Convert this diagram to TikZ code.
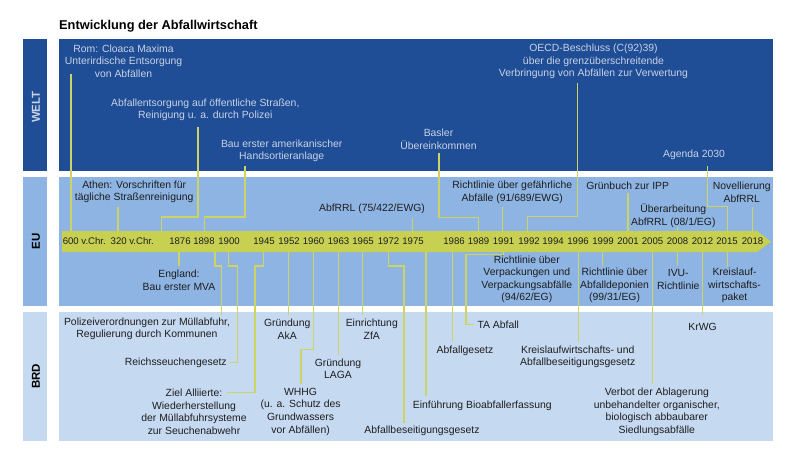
\documentclass[tikz,border=0pt]{standalone}
\usepackage{fontspec}
\setmainfont{Liberation Sans}
\definecolor{welt}{RGB}{31,78,151}
\definecolor{eu}{RGB}{141,180,226}
\definecolor{brd}{RGB}{197,217,241}
\definecolor{barc}{RGB}{200,208,82}
\definecolor{linec}{RGB}{206,212,98}
\definecolor{wtxt}{RGB}{200,210,228}
\definecolor{dtxt}{RGB}{30,30,30}
\newcommand\mytxt{\fontsize{10.4}{12.6}\selectfont}
\newcommand\myyr{\fontsize{9.6}{11}\selectfont}
\tikzset{
  wt/.style={text=wtxt, font=\mytxt, align=center, inner sep=0pt},
  et/.style={text=dtxt, font=\mytxt, align=center, inner sep=0pt},
  yr/.style={text=dtxt, font=\myyr, inner sep=0pt},
  con/.style={draw=linec, line width=1.1pt},
  lbl/.style={font=\fontsize{11.5}{12}\selectfont\bfseries, rotate=90, inner sep=0pt},
}
\begin{document}
\begin{tikzpicture}[x=1pt,y=-1pt]
\useasboundingbox (0,0) rectangle (800,450);
\fill[white] (0,0) rectangle (800,450);
% title
\node[anchor=base west, inner sep=0pt, font=\fontsize{12.8}{14}\selectfont\bfseries, text=black] (title) at (59,29.5) {Entwicklung der Abfallwirtschaft};
% panels
\fill[welt] (59,39) rectangle (773,171);
\fill[eu] (59,177) rectangle (773,306);
\fill[brd] (59,312) rectangle (773,441);
\fill[welt] (23,39) rectangle (47,171);
\fill[eu] (23,177) rectangle (47,306);
\fill[brd] (23,312) rectangle (47,441);
\node[lbl, text=wtxt] (lwelt) at (36,107) {WELT};
\node[lbl, text=black] (leu) at (36,241.5) {EU};
\node[lbl, text=black] (lbrd) at (36,376.5) {BRD};
% timeline bar
\fill[barc] (62,231) -- (757,231) -- (771,241.5) -- (757,252) -- (62,252) -- cycle;
% connectors
\draw[con] (71,74) -- (71,231);
\draw[con] (198,127) -- (198,217) -- (161.7,217) -- (161.7,231);
\draw[con] (245,166) -- (245,217) -- (204.3,217) -- (204.3,231);
\draw[con] (439,153.3) -- (439,217.7) -- (478.3,217.7) -- (478.3,231);
\draw[con] (577.5,83.3) -- (577.5,216.7) -- (527.7,216.7) -- (527.7,231);
\draw[con] (707.7,165.7) -- (707.7,206.7) -- (727.7,206.7) -- (727.7,231);
\draw[con] (118,207.3) -- (118,231);
\draw[con] (179,252) -- (179,266);
\draw[con] (412.7,217.7) -- (412.7,231);
\draw[con] (502.7,207.3) -- (502.7,231);
\draw[con] (628,193.3) -- (628,231);
\draw[con] (677.3,227.3) -- (677.3,231);
\draw[con] (752.7,207.3) -- (752.7,231);
\draw[con] (602.3,252) -- (602.3,266);
\draw[con] (677.3,252) -- (677.3,266);
\draw[con] (727.7,252) -- (727.7,266.7);
\draw[con] (215,252) -- (215,266) -- (221.7,266) -- (221.7,315);
\draw[con] (228.3,252) -- (228.3,266) -- (237.3,266) -- (237.3,362.7) -- (230,362.7);
\draw[con] (263.3,252) -- (263.3,266) -- (255,266) -- (255,392.7) -- (226.7,392.7);
\draw[con] (288.3,252) -- (288.3,315);
\draw[con] (313.3,252) -- (313.3,349.3) -- (301,349.3) -- (301,384.3);
\draw[con] (338.3,252) -- (338.3,355);
\draw[con] (362.7,252) -- (362.7,315);
\draw[con] (388.3,252) -- (388.3,266) -- (404,266) -- (404,422.7);
\draw[con] (426,252) -- (426,396);
\draw[con] (452.7,252) -- (452.7,342.3);
\draw[con] (503.3,252) -- (503.3,254.3) -- (466,254.3) -- (466,324.3) -- (474,324.3);
\draw[con] (578.3,252) -- (578.3,342.3);
\draw[con] (652.3,252) -- (652.3,384.3);
\draw[con] (702.7,252) -- (702.7,315);
% years
\node[yr] (y600) at (84.3,240.8) {600 v.Chr.};
\node[yr] (y320) at (132.2,240.8) {320 v.Chr.};
\foreach \yx/\yt in {180/1876,204/1898,229/1900,264/1945,289/1952,313.5/1960,338.5/1963,363/1965,388.5/1972,413/1975,454/1986,478.5/1989,503.5/1991,529/1992,553/1994,578/1996,603/1999,628/2001,652.5/2005,677.5/2008,702.5/2012,727/2015,752.5/2018}
  \node[yr] (y\yt) at (\yx,240.8) {\yt};
% WELT texts
\node[wt] (rom) at (123.5,61) {Rom: Cloaca Maxima\\Unterirdische Entsorgung\\von Abfällen};
\node[wt] (strassen) at (205.3,110) {Abfallentsorgung auf öffentliche Straßen,\\Reinigung u. a. durch Polizei};
\node[wt] (bau) at (281.7,151) {Bau erster amerikanischer\\Handsortieranlage};
\node[wt] (basler) at (438.5,139) {Basler\\Übereinkommen};
\node[wt] (oecd) at (593.5,61.5) {OECD-Beschluss (C(92)39)\\über die grenzüberschreitende\\Verbringung von Abfällen zur Verwertung};
\node[wt] (agenda) at (694,155) {Agenda 2030};
% EU texts
\node[et] (athen) at (134.2,192) {Athen: Vorschriften für\\tägliche Straßenreinigung};
\node[et] (england) at (179,280) {England:\\Bau erster MVA};
\node[et] (abfrrl75) at (372,209) {AbfRRL (75/422/EWG)};
\node[et] (gefaehr) at (512.3,192.3) {Richtlinie über gefährliche\\Abfälle (91/689/EWG)};
\node[et] (gruenbuch) at (627.7,186) {Grünbuch zur IPP};
\node[et] (ueberarb) at (673.3,215.5) {Überarbeitung\\AbfRRL (08/1/EG)};
\node[et] (novell) at (741.8,192.3) {Novellierung\\AbfRRL};
\node[et] (verpack) at (526.8,279.3) {Richtlinie über\\Verpackungen und\\Verpackungsabfälle\\(94/62/EG)};
\node[et] (deponie) at (614.6,285.6) {Richtlinie über\\Abfalldeponien\\(99/31/EG)};
\node[et] (ivu) at (678.3,279.4) {IVU-\\Richtlinie};
\node[et] (kpaket) at (734.5,285.6) {Kreislauf-\\wirtschafts-\\paket};
% BRD texts
\node[et] (polizei) at (147,329) {Polizeiverordnungen zur Müllabfuhr,\\Regulierung durch Kommunen};
\node[et] (reichs) at (175.8,362.5) {Reichsseuchengesetz};
\node[et] (ziel) at (194,411.7) {Ziel Alliierte:\\Wiederherstellung\\der Müllabfuhrsysteme\\zur Seuchenabwehr};
\node[et] (aka) at (287.2,329) {Gründung\\AkA};
\node[et] (whhg) at (300.6,411.7) {WHHG\\(u. a. Schutz des\\Grundwassers\\vor Abfällen)};
\node[et] (laga) at (338,368.8) {Gründung\\LAGA};
\node[et] (zfa) at (371.8,329) {Einrichtung\\ZfA};
\node[et] (abfbes) at (422,430.5) {Abfallbeseitigungsgesetz};
\node[et] (bio) at (482.3,405.8) {Einführung Bioabfallerfassung};
\node[et] (abfg) at (465,350.5) {Abfallgesetz};
\node[et, anchor=west] (ta) at (477.3,324.3) {TA Abfall};
\node[et] (krw) at (577.7,356.8) {Kreislaufwirtschafts- und\\Abfallbeseitigungsgesetz};
\node[et] (verbot) at (656.8,411.7) {Verbot der Ablagerung\\unbehandelter organischer,\\biologisch abbaubarer\\Siedlungsabfälle};
\node[et] (krwg) at (702.5,326.5) {KrWG};
\end{tikzpicture}
\end{document}
